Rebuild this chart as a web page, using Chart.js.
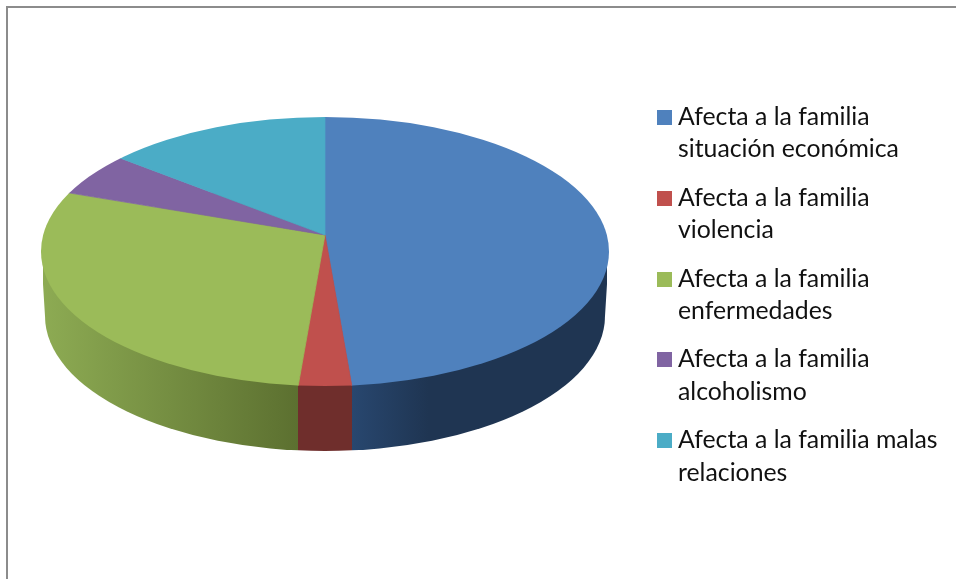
<!DOCTYPE html>
<html lang="es">
<head>
<meta charset="utf-8">
<title>Afecta a la familia</title>
<script src="https://cdn.jsdelivr.net/npm/chart.js@4"></script>
<style>
  html, body { margin: 0; padding: 0; background: #fff; }
  #wrap { position: relative; width: 956px; height: 579px; overflow: hidden; }
  #frame { position: absolute; left: 6px; top: 6px; right: -4px; bottom: -4px;
           border-left: 2px solid #8c8c8c; border-top: 2px solid #8c8c8c; }
  canvas { position: absolute; left: 0; top: 0; }
  #legend { position: absolute; left: 657px; top: 100px; width: 299px;
            font: 24.8px/32.4px Lato, sans-serif; color: #111; }
  .item { position: relative; height: 64.8px; margin-bottom: 16px; padding-left: 21px; white-space: nowrap; }
  .box { position: absolute; left: 0; top: 10px; width: 15px; height: 15px; }
</style>
</head>
<body>
<div id="wrap">
  <div id="frame"></div>
  <canvas id="pie" width="956" height="579"></canvas>
  <div id="legend"></div>
</div>
<script>
// values (share of the pie, %)
const categories = [
  ['Afecta a la familia', 'situación económica'],
  ['Afecta a la familia', 'violencia'],
  ['Afecta a la familia', 'enfermedades'],
  ['Afecta a la familia', 'alcoholismo'],
  ['Afecta a la familia malas', 'relaciones']
];
const shares = [48.5, 3, 29.5, 5.7, 13.3];
const colors = ['#4F81BD', '#C0504D', '#9BBB59', '#8064A2', '#4BACC6'];

// side wall gradient stops, left to right
const wallStops = [
  [[0, '#28476f'], [0.3, '#1f3552'], [1, '#1f3552']],
  [[0, '#6f2e2c'], [1, '#6f2e2c']],
  [[0, '#8dab53'], [1, '#5c7030']]
];

// the tilted disc: apex is above the middle of the rim
const apex = { x: 325, y: 235 };
const rim = { x: 325, y: 251.5, rx: 284, ry: 134.5 };
const foot = { x: 325, y: 316, rx: 280, ry: 135 };
const squashUp = 118 / 284;
const squashDown = 151 / 284;

// x where a slice edge of angle a meets the front of the rim
const rimX = (a) => {
  const c = Math.cos(a), d = Math.sin(a) * squashDown, off = rim.y - apex.y;
  const A = c * c / (rim.rx * rim.rx) + d * d / (rim.ry * rim.ry);
  const B = -2 * d * off / (rim.ry * rim.ry);
  const C = off * off / (rim.ry * rim.ry) - 1;
  return apex.x + c * (-B + Math.sqrt(B * B - 4 * A * C)) / (2 * A);
};

const fillWall = (ctx) => {
  ctx.beginPath();
  ctx.ellipse(foot.x, foot.y, foot.rx, foot.ry, 0, 0, Math.PI * 2);
  ctx.fill();
  ctx.beginPath();
  ctx.moveTo(rim.x - rim.rx, rim.y);
  ctx.lineTo(rim.x + rim.rx, rim.y);
  ctx.lineTo(foot.x + foot.rx, foot.y);
  ctx.lineTo(foot.x - foot.rx, foot.y);
  ctx.closePath();
  ctx.fill();
};

const enterFace = (ctx, top, bottom, squash) => {
  ctx.save();
  ctx.beginPath();
  ctx.rect(0, top, 956, bottom - top);
  ctx.clip();
  ctx.beginPath();
  ctx.ellipse(rim.x, rim.y, rim.rx, rim.ry, 0, 0, Math.PI * 2);
  ctx.clip();
  ctx.translate(apex.x, apex.y);
  ctx.scale(1, squash);
  ctx.translate(-apex.x, -apex.y);
};

const disc3d = {
  id: 'disc3d',
  beforeDatasetsDraw(chart) {
    const ctx = chart.ctx;
    chart.getDatasetMeta(0).data.forEach((arc, i) => {
      const lo = Math.max(arc.startAngle, 0);
      const hi = Math.min(arc.endAngle, Math.PI);
      if (hi <= lo) return;
      // whole pixels, a soft clip edge leaves a pale line between slices
      const x1 = Math.round(rimX(hi)), x2 = Math.round(rimX(lo));
      const grad = ctx.createLinearGradient(x1, 0, x2, 0);
      wallStops[i].forEach(s => grad.addColorStop(s[0], s[1]));
      ctx.save();
      ctx.beginPath();
      ctx.rect(x1, 0, x2 - x1, 579);
      ctx.clip();
      ctx.fillStyle = grad;
      fillWall(ctx);
      ctx.restore();
    });
    enterFace(ctx, apex.y, 579, squashDown);
  },
  afterDatasetsDraw(chart) {
    const ctx = chart.ctx;
    ctx.restore();
    enterFace(ctx, 0, apex.y, squashUp);
    chart.getDatasetMeta(0).data.forEach(arc => arc.draw(ctx));
    ctx.restore();
  }
};

new Chart(document.getElementById('pie'), {
  type: 'pie',
  data: {
    labels: categories.map(c => c.join(' ')),
    datasets: [{
      data: shares,
      backgroundColor: colors,
      borderColor: colors,
      borderWidth: 1,
      radius: 300,
      clip: false
    }]
  },
  options: {
    responsive: false,
    animation: false,
    layout: { padding: { right: 306, bottom: 109 } },
    plugins: { legend: { display: false }, tooltip: { enabled: false } }
  },
  plugins: [disc3d]
});

// legend
const legendEl = document.getElementById('legend');
categories.forEach((lines, i) => {
  const item = document.createElement('div');
  item.className = 'item';
  const box = document.createElement('span');
  box.className = 'box';
  box.style.background = colors[i];
  item.appendChild(box);
  lines.forEach((line, j) => {
    if (j) item.appendChild(document.createElement('br'));
    item.appendChild(document.createTextNode(line));
  });
  legendEl.appendChild(item);
});
</script>
</body>
</html>
